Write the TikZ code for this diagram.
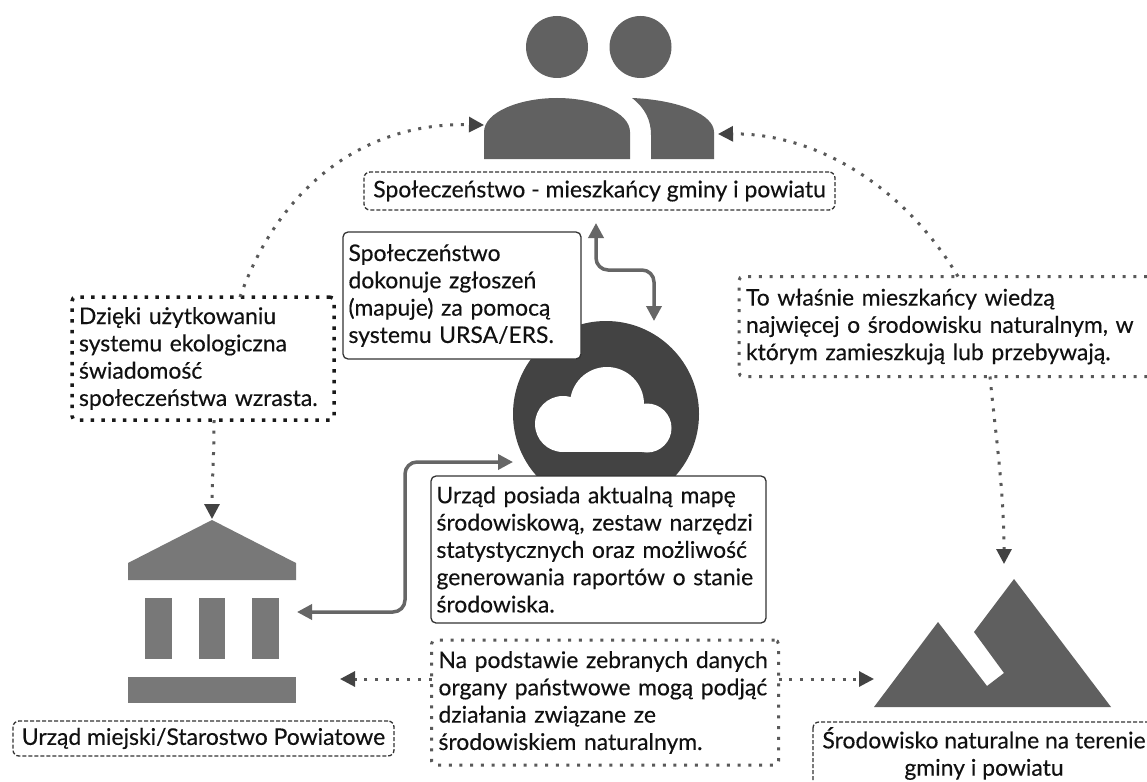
\documentclass[tikz,border=0pt]{standalone}
\usepackage{fontspec}
\setmainfont[RawFeature={embolden=0.3}]{Lato}
\usetikzlibrary{arrows.meta,calc}
\definecolor{txt}{HTML}{111111}
\definecolor{ppl}{HTML}{616161}
\definecolor{cld}{HTML}{434343}
\definecolor{gov}{HTML}{787878}
\definecolor{mnt}{HTML}{5F5F5F}
\definecolor{lin}{HTML}{666666}
\definecolor{dotc}{HTML}{595959}
\definecolor{tip}{HTML}{434343}
\tikzset{
  bodytext/.style={font=\fontsize{22.9}{27.3}\selectfont,text=txt,outer sep=0pt,inner ysep=0pt,inner xsep=0pt,anchor=center},
  solidbox/.style={bodytext,draw=black!80,line width=1.3pt,fill=white,rounded corners=5pt,align=left},
  dashframe/.style={draw=black!80,line width=1.3pt,dash pattern=on 4pt off 2pt,rounded corners=6pt},
  dashbox/.style={bodytext,dashframe,align=center},
  plainlabel/.style={bodytext,align=center},
  dotbox/.style={bodytext,draw=dotc,line width=3pt,dash pattern=on 3pt off 7.7pt,rounded corners=4pt,align=left},
  blackdotbox/.style={bodytext,draw=black!90,line width=3.5pt,dash pattern=on 3.5pt off 7.2pt,rounded corners=4pt,align=left},
  dotlink/.style={draw=dotc,line width=3pt,dash pattern=on 3pt off 7.7pt,-{Triangle[length=15pt,width=15pt,fill=tip,color=tip]}},
  solidlink/.style={draw=lin,line width=3.5pt,rounded corners=12pt,{Triangle[length=15pt,width=15pt,fill=lin,color=lin]}-{Triangle[length=15pt,width=15pt,fill=lin,color=lin]}},
}
\begin{document}
\begin{tikzpicture}[x=1pt,y=-1pt]
\useasboundingbox (0,0) rectangle (1147,781);
\clip (0,0) rectangle (1147,781);
\fill[white] (0,0) rectangle (1147,781);

% people
\fill[ppl] (557,47) circle[radius=31];
\fill[ppl] (640.5,47) circle[radius=31];
\fill[ppl] (484,159) -- (484,132) .. controls (484,112) and (520,98) .. (557,98) .. controls (594,98) and (630,112) .. (630,132) -- (630,159) -- cycle;
\fill[ppl] (632,98) .. controls (680,100) and (714,115) .. (714,132) -- (714,159) -- (651,159) -- (651,135) .. controls (651,120) and (645,108) .. (632,98) -- cycle;
\coordinate (pplL) at (484,125);
\coordinate (pplR) at (718,134);

% cloud
\fill[cld] (606,414) circle[radius=93];
\fill[white] (563,424) circle[radius=28];
\fill[white] (607,404) circle[radius=37];
\fill[white] (647,428) circle[radius=24.5];
\fill[white] (563,415) rectangle (647,452);
\coordinate (cldTop) at (654,321);
\coordinate (cldL) at (513,462);

% building
\fill[gov] (212,520) -- (296,563) -- (296,580) -- (128,580) -- (128,563) -- cycle;
\fill[gov] (145,598) rectangle (172,659);
\fill[gov] (199,598) rectangle (225,659);
\fill[gov] (252,598) rectangle (279,659);
\fill[gov] (128,677) rectangle (296,703);
\coordinate (govTop) at (212,519);
\coordinate (govR) at (297,612);
\coordinate (govD) at (340,679);

% mountains
\fill[mnt] (874,707) -- (938,622) -- (987,686) -- (1004,673) -- (974,632) -- (1014,579) -- (1111,707) -- cycle;
\coordinate (mntTop) at (1004,564);
\coordinate (mntL) at (874,679);

% labels
\node[dashbox,minimum width=471pt,minimum height=38pt] (lblS) at (599.5,191) {Społeczeństwo - mieszkańcy gminy i powiatu};
\node[dashbox,minimum width=381pt,minimum height=35pt] (lblU) at (203.5,738.5) {Urząd miejski/Starostwo Powiatowe};
\draw[dashframe] (813,722) rectangle (1155,792);
\node[plainlabel] (lblE) at (984,753.5) {Środowisko naturalne na terenie\\gminy i powiatu};
\coordinate (lblSb) at (596,223);

% boxes
\node[solidbox,text width=227pt,minimum height=127pt,inner xsep=5.5pt] (bS) at (462,295.5) {Społeczeństwo\\dokonuje zgłoszeń\\(mapuje) za pomocą\\systemu URSA/ERS.};
\node[solidbox,text width=324pt,minimum height=147pt,inner xsep=5.5pt] (bU) at (598.5,549.5) {Urząd posiada aktualną mapę\\środowiskową, zestaw narzędzi\\statystycznych oraz możliwość\\generowania raportów o stanie\\środowiska.};
\node[blackdotbox,text width=248pt,minimum height=123pt,inner xsep=7pt] (bD) at (203,358.5) {Dzięki użytkowaniu\\systemu ekologiczna\\świadomość\\społeczeństwa wzrasta.};
\node[dotbox,text width=398pt,minimum height=100pt,inner xsep=7pt] (bM) at (945,326.5) {To właśnie mieszkańcy wiedzą\\najwięcej o środowisku naturalnym, w\\którym zamieszkują lub przebywają.};
\node[dotbox,text width=333pt,minimum height=125pt,inner xsep=7pt] (bN) at (605,702.5) {Na podstawie zebranych danych\\organy państwowe mogą podjąć\\działania związane ze\\środowiskiem naturalnym.};

% connectors
\draw[solidlink] (lblSb) -- (596,270) -- (654,270) -- (cldTop);
\draw[solidlink] (cldL) -- (405,462) -- (405,612) -- (govR);
\draw[dotlink] (bD.north -| 240,0) .. controls (280,185) and (365,122) .. (pplL);
\draw[dotlink] (bM.north -| 958,0) .. controls (900,180) and (810,133) .. (pplR);
\draw[dotlink] (bD.south -| 214,0) .. controls (214,460) and (212,480) .. (govTop);
\draw[dotlink] (bM.south -| 990,0) .. controls (995,430) and (1004,490) .. (mntTop);
\draw[dotlink] (bN.west |- govD) -- (govD);
\draw[dotlink] (bN.east |- mntL) -- (mntL);
\end{tikzpicture}
\end{document}
